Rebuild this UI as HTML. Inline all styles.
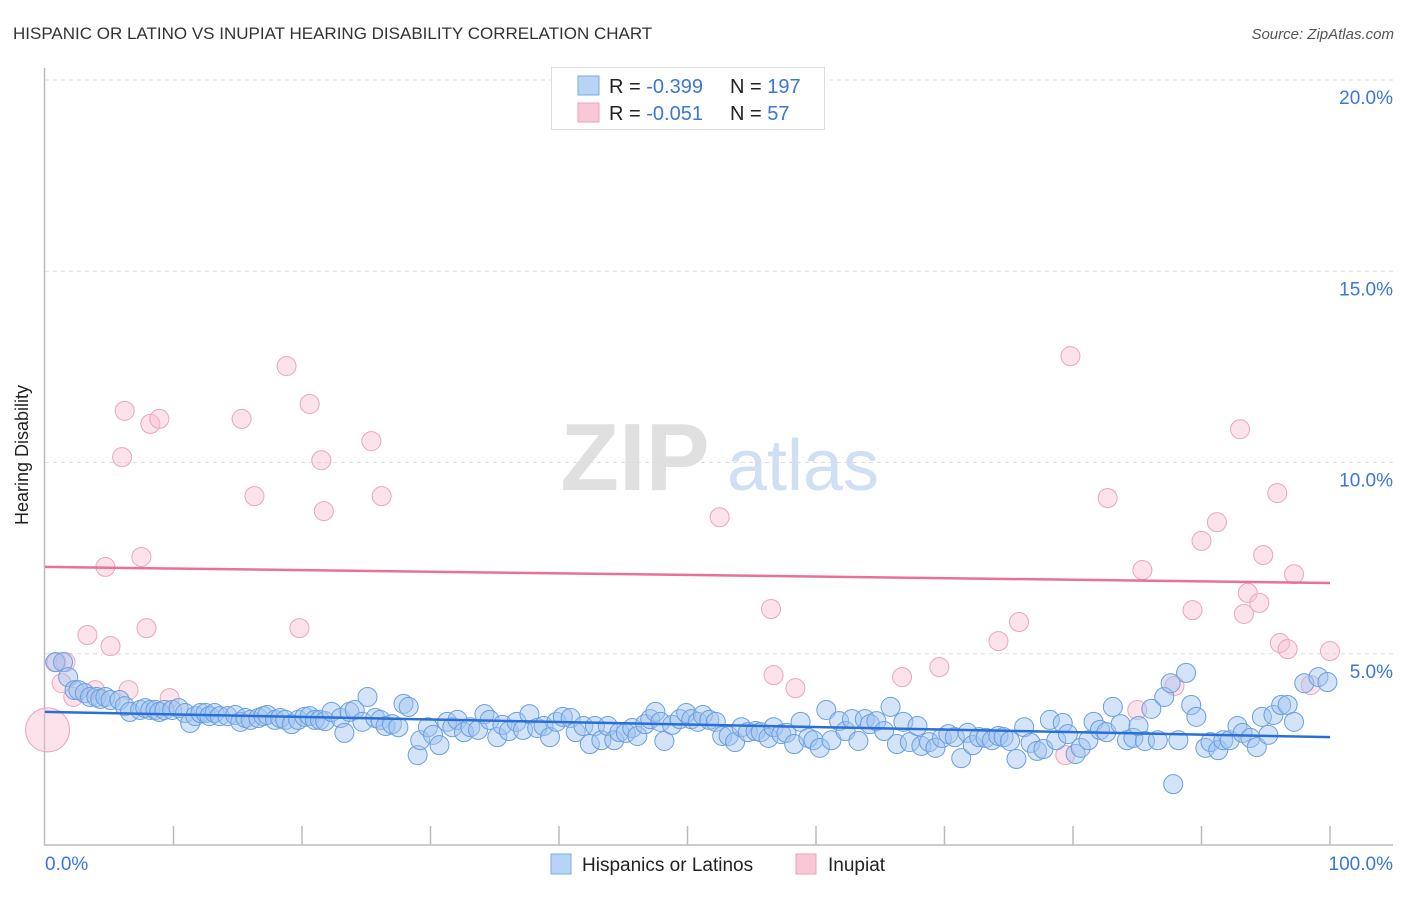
<!DOCTYPE html>
<html><head><meta charset="utf-8"><style>
body{margin:0;background:#fff;font-family:"Liberation Sans",sans-serif;}
svg text{font-family:"Liberation Sans",sans-serif;}
</style></head><body>
<svg id="chart" width="1406" height="892" viewBox="0 0 1406 892" xmlns="http://www.w3.org/2000/svg">
<text x="13" y="39" font-size="17" fill="#333">HISPANIC OR LATINO VS INUPIAT HEARING DISABILITY CORRELATION CHART</text>
<text x="1394" y="39" font-size="15" fill="#555" font-style="italic" text-anchor="end">Source: ZipAtlas.com</text>
<g>
<text x="635" y="490" font-size="96" font-family="Liberation Serif" fill="#e0e0e0" text-anchor="middle" font-weight="bold">ZIP</text>
<text x="803" y="490" font-size="72" fill="#d0e0f4" text-anchor="middle">atlas</text>
</g>
<g id="grid"></g>
<g id="axes"></g>
<g id="pts"></g>
<g id="trends"></g>
<text x="28" y="455" font-size="18" fill="#222" text-anchor="middle" transform="rotate(-90 28 455)">Hearing Disability</text>
<g>
<rect x="551.5" y="67.5" width="273" height="62" fill="#fff" stroke="#ddd"/>
<rect x="578" y="76" width="21" height="19" fill="#b8d4f5" stroke="#7aaae6"/>
<rect x="578" y="103" width="21" height="19" fill="#f9c8d7" stroke="#eea0ba"/>
<text x="609" y="93" font-size="20" fill="#222">R = <tspan fill="#3b76d8">-0.399</tspan></text>
<text x="730" y="93" font-size="20" fill="#222">N = <tspan fill="#3b76d8">197</tspan></text>
<text x="609" y="120" font-size="20" fill="#222">R = <tspan fill="#3b76d8"> -0.051</tspan></text>
<text x="730" y="120" font-size="20" fill="#222">N = <tspan fill="#3b76d8">  57</tspan></text>
</g>
<g>
<rect x="551" y="854" width="20" height="20" fill="#b8d4f5" stroke="#7aaae6"/>
<text x="582" y="871" font-size="19" fill="#222">Hispanics or Latinos</text>
<rect x="796" y="854" width="20" height="20" fill="#f9c8d7" stroke="#eea0ba"/>
<text x="828" y="871" font-size="19" fill="#222">Inupiat</text>
</g>
</svg>
<script>
const yTicks=[5,10,15,20];
const xTickCount=10;
const blueX=[0.8,1.4,1.8,2.3,2.6,3.1,3.5,4.0,4.3,4.7,5.1,5.8,6.2,6.6,7.4,7.8,8.2,8.6,8.9,9.3,9.9,10.4,10.9,11.3,11.7,12.1,12.5,12.8,13.2,13.6,14.2,14.8,15.2,15.6,16.0,16.6,17.0,17.3,17.9,18.3,18.7,19.2,19.7,20.2,20.6,21.0,21.4,21.8,22.3,23.0,23.3,23.7,24.1,24.7,25.1,25.7,26.1,26.5,27.0,27.5,27.9,28.3,29.0,29.2,29.8,30.2,30.7,31.3,31.7,32.1,32.6,33.1,33.7,34.2,34.6,35.2,35.6,36.1,36.7,37.2,37.7,38.3,38.8,39.3,39.8,40.3,40.9,41.3,41.9,42.4,42.8,43.3,43.8,44.3,44.7,45.2,45.7,46.1,46.7,47.1,47.5,47.9,48.2,48.8,49.4,49.9,50.3,50.8,51.2,51.7,52.2,52.7,53.2,53.7,54.2,54.7,55.3,55.7,56.3,56.7,57.3,57.7,58.3,58.8,59.4,59.8,60.3,60.8,61.2,61.8,62.3,62.8,63.3,63.8,64.2,64.7,65.3,65.8,66.3,66.8,67.3,67.9,68.2,68.8,69.3,69.8,70.3,70.8,71.3,71.8,72.2,72.7,73.2,73.7,74.2,74.6,75.1,75.6,76.2,76.7,77.2,77.7,78.2,78.7,79.2,79.6,80.2,80.6,81.2,81.6,82.1,82.6,83.1,83.7,84.2,84.7,85.1,85.6,86.1,86.6,87.1,87.6,87.8,88.2,88.8,89.2,89.6,90.3,90.7,91.3,91.7,92.2,92.8,93.2,93.8,94.3,94.7,95.2,95.6,96.2,96.7,97.2,98.0,99.1,99.8];
const blueY=[4.78,4.78,4.39,4.05,4.05,3.97,3.87,3.87,3.82,3.87,3.79,3.79,3.63,3.48,3.53,3.58,3.53,3.53,3.48,3.53,3.53,3.58,3.45,3.19,3.37,3.45,3.45,3.37,3.45,3.37,3.37,3.40,3.22,3.32,3.27,3.32,3.37,3.40,3.27,3.32,3.27,3.16,3.27,3.35,3.37,3.27,3.27,3.24,3.48,3.32,2.93,3.48,3.53,3.22,3.87,3.32,3.27,3.11,3.16,3.08,3.69,3.61,2.35,2.74,3.08,2.88,2.61,3.22,3.08,3.27,2.95,3.08,3.01,3.42,3.27,2.82,3.14,2.98,3.22,3.01,3.42,3.06,3.11,2.82,3.22,3.35,3.32,2.95,3.11,2.64,3.11,2.74,3.11,2.74,2.95,2.93,3.06,2.85,3.16,3.29,3.48,3.22,2.72,3.14,3.29,3.45,3.29,3.22,3.40,3.27,3.22,2.85,2.85,2.69,3.08,2.95,2.98,2.95,2.80,3.08,2.90,2.93,2.64,3.22,2.80,2.74,2.54,3.53,2.74,3.24,2.98,3.29,2.72,3.29,3.16,3.24,2.98,3.61,2.64,3.22,2.69,3.11,2.59,2.69,2.54,2.80,2.90,2.82,2.27,2.93,2.61,2.82,2.80,2.74,2.85,2.82,2.72,2.25,3.08,2.67,2.46,2.51,3.27,2.74,3.19,2.90,2.38,2.54,2.74,3.22,3.01,2.95,3.61,3.16,2.74,2.80,3.11,2.72,3.56,2.74,3.87,4.23,1.59,2.74,4.50,3.66,3.35,2.54,2.69,2.48,2.74,2.74,3.11,2.93,2.80,2.56,3.35,2.88,3.40,3.66,3.66,3.22,4.23,4.39,4.26];
const pinkX=[0.2,0.9,1.6,1.3,2.2,3.3,3.9,4.7,5.1,6.0,6.2,6.5,7.5,7.9,8.2,8.9,9.7,15.3,16.3,18.8,19.8,20.6,21.5,21.7,25.4,26.2,47.2,52.5,56.5,56.7,58.4,66.7,69.6,74.2,75.8,79.8,79.4,82.7,85.0,85.4,87.9,89.3,90.0,91.2,93.0,93.3,93.6,94.5,94.8,95.9,96.1,96.7,97.2,98.5,100.0];
const pinkY=[3.01,4.78,4.78,4.23,3.87,5.49,4.05,7.27,5.20,10.14,11.35,4.05,7.53,5.67,11.01,11.14,3.84,11.14,9.12,12.52,5.67,11.53,10.06,8.73,10.56,9.12,19.66,8.57,6.17,4.44,4.10,4.39,4.65,5.33,5.83,12.78,2.35,9.07,3.53,7.19,4.16,6.14,7.95,8.44,10.87,6.04,6.59,6.33,7.58,9.20,5.28,5.12,7.08,4.18,5.07];
const blueTrend=[3.48,2.82];
const pinkTrend=[7.27,6.85];
const X=v=>45+v*12.85, Y=v=>845-v*38.25;
const NS="http://www.w3.org/2000/svg";
function mk(tag,attrs,parent){const e=document.createElementNS(NS,tag);for(const k in attrs)e.setAttribute(k,attrs[k]);parent.appendChild(e);return e;}
const grid=document.getElementById('grid'),axes=document.getElementById('axes'),pts=document.getElementById('pts'),tr=document.getElementById('trends');
yTicks.forEach(t=>{
 const l=mk('line',{x1:45,x2:1393,y1:Y(t),y2:Y(t),stroke:'#ddd','stroke-dasharray':'4,4'},grid);
 
 
 const tx=mk('text',{x:1393,y:Y(t)+24,'font-size':19,fill:'#3b76d8','text-anchor':'end'},axes);
 tx.textContent=t.toFixed(1)+'%';
 
 
});
mk('line',{x1:44.5,x2:44.5,y1:68,y2:845,stroke:'#bbb','stroke-width':1.5},axes);
mk('line',{x1:44,x2:1393,y1:845,y2:845,stroke:'#bbb','stroke-width':1.5},axes);
for(let i=1;i<=xTickCount;i++){const l=mk('line',{x1:X(i*10),x2:X(i*10),y1:826,y2:845,stroke:'#bbb','stroke-width':1.5},axes);
 
 }
const x0=mk('text',{x:45,y:870,'font-size':19,fill:'#3b76d8'},axes);x0.textContent='0.0%';


const x1=mk('text',{x:1393,y:870,'font-size':19,fill:'#3b76d8','text-anchor':'end'},axes);x1.textContent='100.0%';


pinkX.forEach((v,i)=>{const c=mk('circle',{cx:X(v),cy:Y(pinkY[i]),r:i===0?22:9.5,fill:'rgba(248,190,210,0.45)',stroke:'#eba5bd','stroke-width':1},pts);
 
 });
blueX.forEach((v,i)=>{const c=mk('circle',{cx:X(v),cy:Y(blueY[i]),r:9.5,fill:'rgba(160,196,240,0.45)',stroke:'#6a9fe0','stroke-width':1},pts);
 
 });
const bt=mk('line',{x1:X(0),x2:X(100),y1:Y(blueTrend[0]),y2:Y(blueTrend[1]),stroke:'#2a6fd6','stroke-width':2.5},tr);


const pt=mk('line',{x1:X(0),x2:X(100),y1:Y(pinkTrend[0]),y2:Y(pinkTrend[1]),stroke:'#e8709a','stroke-width':2.5},tr);


</script>
</body></html>
